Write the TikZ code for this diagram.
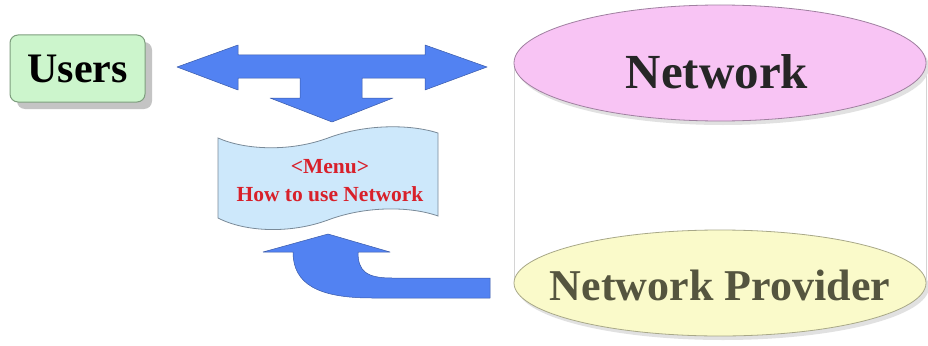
\documentclass[tikz,border=0pt]{standalone}
\usepackage{fontspec}
\setmainfont{Liberation Serif}
\usetikzlibrary{shapes.geometric}
\definecolor{arrowblue}{HTML}{5282F2}
\definecolor{arrowedge}{HTML}{3A5AA8}
\definecolor{usersfill}{HTML}{CCF5CC}
\definecolor{usersedge}{HTML}{7E9E7E}
\definecolor{menufill}{HTML}{CDE8FB}
\definecolor{menuedge}{HTML}{7A8A98}
\definecolor{menutext}{HTML}{D8202A}
\definecolor{netfill}{HTML}{F8C4F4}
\definecolor{netedge}{HTML}{A080A0}
\definecolor{provfill}{HTML}{FAFACA}
\definecolor{provedge}{HTML}{A8A888}
\definecolor{provtext}{HTML}{55553F}
\definecolor{sidegray}{HTML}{D4D4D4}
\definecolor{shadowgray}{HTML}{C4C4C4}
\tikzset{
  bigarrow/.style={fill=arrowblue, draw=arrowedge, line width=0.5pt, line join=round},
  usersbox/.style={rectangle, rounded corners=8pt, fill=usersfill, draw=usersedge, line width=1pt,
    minimum width=135pt, minimum height=67pt, font=\fontsize{42}{46}\selectfont\bfseries, inner sep=0pt},
  netellipse/.style={ellipse, inner sep=0pt},
  menutxt/.style={font=\fontsize{21.5}{28}\selectfont\bfseries, text=menutext, align=center, inner sep=0pt}
}
\begin{document}
\begin{tikzpicture}[x=1pt,y=-1pt]
\useasboundingbox (0,0) rectangle (928,345);
\fill[white] (0,0) rectangle (928,345);

% Users box with shadow
\fill[shadowgray, rounded corners=8pt] (17,42) rectangle (152,109);
\node[usersbox] (users) at (77.5,68.5) {Users};

% Double arrow with down branch
\coordinate (dl) at (177,67);
\coordinate (dr) at (487,67);
\coordinate (dd) at (332,122);
\path[bigarrow] (dl) -- (238,45) -- (238,55) -- (425,55) -- (425,45) -- (dr)
  -- (425,90) -- (425,78) -- (362,78) -- (362,98) -- (393,98) -- (dd)
  -- (270,98) -- (300,98) -- (300,78) -- (238,78) -- (238,90) -- cycle;

% Menu wave shape
\path[fill=menufill, draw=menuedge, line width=0.8pt]
  (218,138) .. controls (245,150) and (290,152) .. (328,138)
  .. controls (365,124) and (410,124) .. (438,133)
  -- (438,216)
  .. controls (410,206) and (365,206) .. (328,220)
  .. controls (290,234) and (245,232) .. (218,218) -- cycle;
\node[menutxt] (menu) at (330,181) {<Menu>\\How to use Network};

% Curved arrow from provider to menu
\coordinate (ct) at (328,234);
\coordinate (cr) at (490,288);
\path[bigarrow] (ct) -- (390,252) -- (358,252)
  .. controls (358,271) and (366,278) .. (392,278) -- (490,278) -- (490,298)
  -- (372,298) .. controls (318,298) and (293,284) .. (293,252)
  -- (263,252) -- cycle;

% Cylinder body
\fill[white] (514,63) rectangle (926,283);
\draw[sidegray, line width=1pt] (514,63) -- (514,283);
\draw[sidegray, line width=1pt] (926,63) -- (926,283);

% Bottom ellipse (provider)
\fill[shadowgray!50] (723,287) ellipse[x radius=206pt, y radius=53pt];
\node[netellipse, fill=provfill, draw=provedge, line width=0.8pt,
  minimum width=412pt, minimum height=106pt] (prov) at (720,283) {};
\node[font=\fontsize{44}{48}\selectfont\bfseries, text=provtext] (provtxt) at (720,285) {Network Provider};

% Top ellipse (network)
\fill[shadowgray!50] (723,67) ellipse[x radius=206pt, y radius=58pt];
\node[netellipse, fill=netfill, draw=netedge, line width=0.8pt,
  minimum width=412pt, minimum height=116pt] (net) at (720,63) {};
\node[font=\fontsize{49}{52}\selectfont\bfseries, text=black!85] (nettxt) at (717,72) {Network};
\end{tikzpicture}
\end{document}
